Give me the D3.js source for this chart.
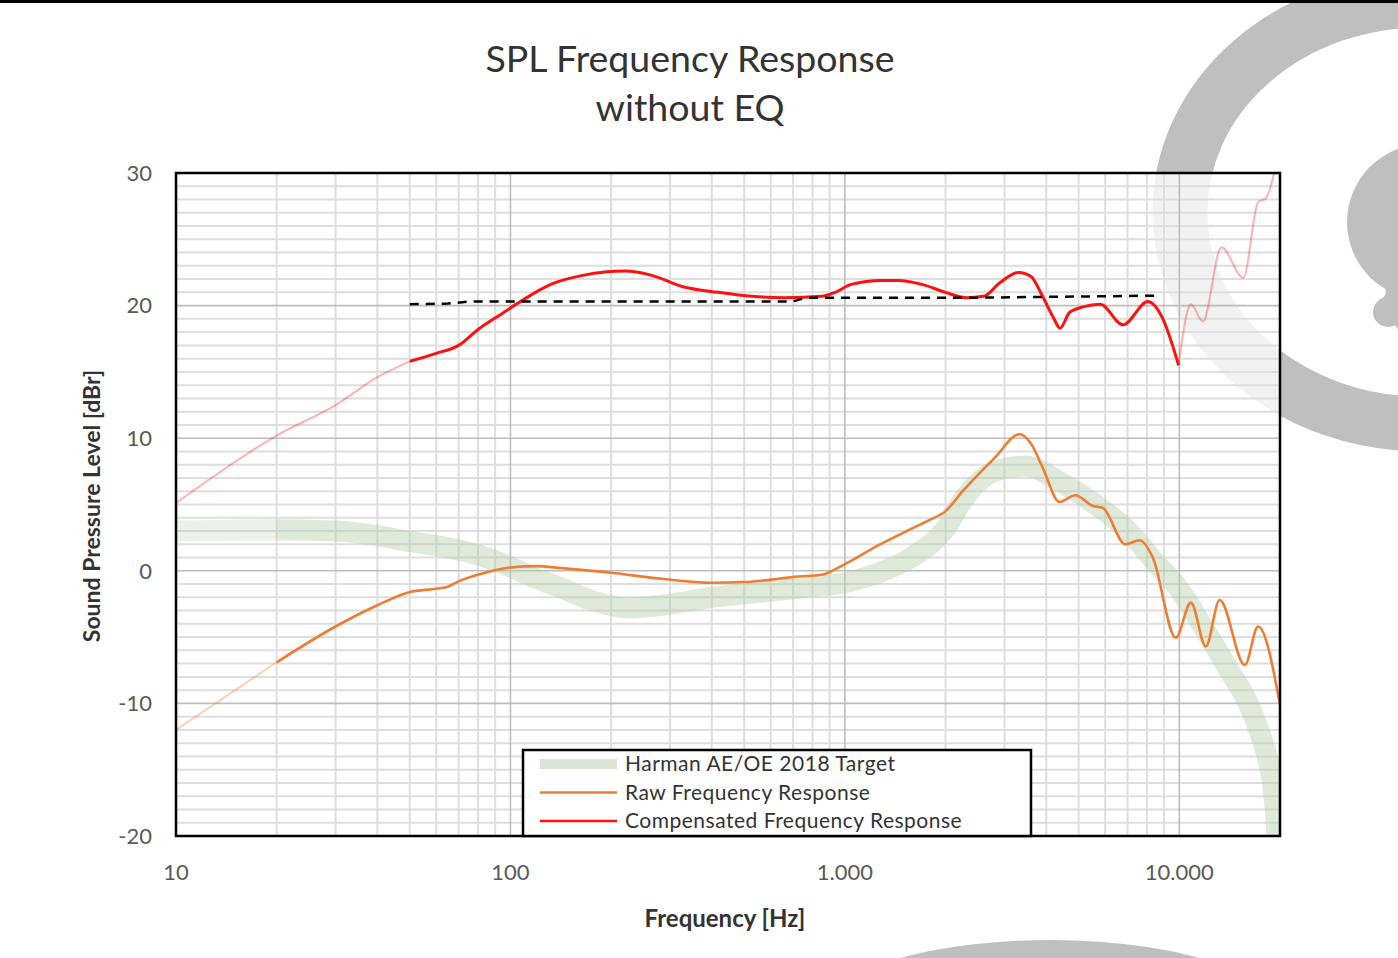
<!DOCTYPE html>
<html>
<head>
<meta charset="utf-8">
<script src="https://cdn.jsdelivr.net/npm/d3@7"></script>
<style>
  body { margin: 0; background: #fff; }
  text { font-family: Lato, "Open Sans", sans-serif; }
</style>
</head>
<body>
<div id="chart"></div>
<script>

// Harman target (green band)
const targetFreq = [10, 20, 30, 40, 50, 60, 80, 100, 115, 142, 178, 225, 283, 400, 564, 796, 1000, 1265, 1590, 2000, 2250, 2800, 3470, 4470, 5620, 7100, 8500, 10000, 11760, 14170, 16000, 17500, 18500, 19200, 19600, 20000];
const targetDb   = [3.0, 3.1, 3.0, 2.65, 2.2, 1.9, 1.2, 0.3, -0.4, -1.3, -2.3, -2.8, -2.6, -2.0, -1.6, -1.2, -0.9, -0.15, 1.05, 3.2, 5.3, 7.5, 7.9, 6.6, 5.0, 2.9, 0.6, -1.4, -4.2, -7.6, -9.9, -12.4, -14.5, -17, -20, -24];

// raw measurement (orange)
const rawFreq = [10, 20, 30, 40, 50, 60, 65, 70, 80, 100, 120, 142, 200, 283, 400, 500, 634, 708, 853, 1000, 1265, 1590, 1780, 2000, 2250, 2800, 3330, 3600, 3900, 4380, 4890, 5500, 5900, 6900, 7600, 8330, 9760, 10830, 12000, 13200, 15700, 17200, 20000];
const rawDb   = [-12.0, -6.9, -4.2, -2.6, -1.6, -1.35, -1.2, -0.8, -0.3, 0.25, 0.35, 0.2, -0.15, -0.6, -0.9, -0.85, -0.6, -0.45, -0.3, 0.5, 1.95, 3.2, 3.8, 4.5, 6.0, 8.5, 10.3, 9.6, 7.8, 5.2, 5.7, 4.9, 4.75, 2.0, 2.3, 1.0, -5.05, -2.4, -5.7, -2.2, -7.1, -4.2, -10.1];

// compensated response (red)
const compFreq = [10, 20, 30, 40, 50, 60, 70, 80, 93, 107, 132, 166, 220, 263, 330, 418, 527, 660, 852, 935, 1045, 1283, 1450, 1700, 2000, 2300, 2600, 2900, 3300, 3600, 3900, 4200, 4400, 4700, 5150, 5800, 6790, 8050, 8870, 9950, 10830, 11760, 13360, 15540, 17200, 18160, 19200];
const compDb   = [5.1, 10.2, 12.5, 14.6, 15.8, 16.4, 17.0, 18.2, 19.3, 20.3, 21.6, 22.3, 22.6, 22.3, 21.4, 21.0, 20.7, 20.6, 20.7, 21.0, 21.6, 21.9, 21.9, 21.6, 21.0, 20.6, 20.7, 21.7, 22.5, 22.2, 20.7, 19.1, 18.3, 19.5, 19.9, 20.1, 18.55, 20.3, 19.15, 15.5, 20.1, 18.8, 24.4, 22.1, 27.8, 28.1, 30];

// dashed trend line
const trendFreq = [50, 65, 75, 700, 760, 2500, 8500];
const trendDb   = [20.1, 20.15, 20.3, 20.3, 20.6, 20.6, 20.75];

const yTicks = [30, 20, 10, 0, -10, -20];
const xTicks = [10, 100, 1000, 10000];
const xTickLabels = ["10", "100", "1.000", "10.000"];
const legendLabels = ["Harman AE/OE 2018 Target", "Raw Frequency Response", "Compensated Frequency Response"];

const width = 1398;
const height = 958;
const plot = {left: 176, right: 1280, top: 173, bottom: 836};

const x = d3.scaleLog().domain([10, 20000]).range([plot.left, plot.right]);
const y = d3.scaleLinear().domain([-20, 30]).range([plot.bottom, plot.top]);

const svg = d3.select("#chart").append("svg")
	.attr("width", width)
	.attr("height", height);

// watermark logo behind everything
const wm = svg.append("g").attr("fill", "#bfbfbf");
wm.append("ellipse")
	.attr("cx", 1422).attr("cy", 212).attr("rx", 242).attr("ry", 212)
	.attr("fill", "none").attr("stroke", "#bfbfbf").attr("stroke-width", 55);
wm.append("ellipse").attr("cx", 1425).attr("cy", 222).attr("rx", 78).attr("ry", 78);
wm.append("path").attr("d", "M1372,265 Q1395,292 1380,300 L1398,330 L1398,265 Z");
wm.append("circle").attr("cx", 1388).attr("cy", 312).attr("r", 15);
wm.append("ellipse").attr("cx", 1050).attr("cy", 1030).attr("rx", 250).attr("ry", 90);

// top black strip
svg.append("rect").attr("x", 0).attr("y", 0).attr("width", width).attr("height", 3).attr("fill", "#000");

// plot background lets watermark show through a little
svg.append("rect")
	.attr("x", plot.left).attr("y", plot.top)
	.attr("width", plot.right - plot.left).attr("height", plot.bottom - plot.top)
	.attr("fill", "#fff").attr("opacity", 0.8);

svg.append("clipPath").attr("id", "plotClip")
	.append("rect")
	.attr("x", plot.left).attr("y", plot.top)
	.attr("width", plot.right - plot.left).attr("height", plot.bottom - plot.top);

// grid
const grid = svg.append("g");
const minorY = d3.range(-19, 30).filter(v => v % 10 !== 0);
const majorY = [-10, 0, 10, 20];
const minorX = [];
[10, 100, 1000, 10000].forEach(dec => {
	for (let k = 2; k <= 9; k++) if (dec * k < 20000) minorX.push(dec * k);
});
const majorX = [100, 1000, 10000];

grid.selectAll("line.minor-y").data(minorY).enter().append("line")
	.attr("x1", plot.left).attr("x2", plot.right)
	.attr("y1", d => y(d)).attr("y2", d => y(d))
	.attr("stroke", "#dedede").attr("stroke-width", 2);
grid.selectAll("line.minor-x").data(minorX).enter().append("line")
	.attr("x1", d => x(d)).attr("x2", d => x(d))
	.attr("y1", plot.top).attr("y2", plot.bottom)
	.attr("stroke", "#dedede").attr("stroke-width", 2);
grid.selectAll("line.major-y").data(majorY).enter().append("line")
	.attr("x1", plot.left).attr("x2", plot.right)
	.attr("y1", d => y(d)).attr("y2", d => y(d))
	.attr("stroke", "#bdbdbd").attr("stroke-width", 1.6);
grid.selectAll("line.major-x").data(majorX).enter().append("line")
	.attr("x1", d => x(d)).attr("x2", d => x(d))
	.attr("y1", plot.top).attr("y2", plot.bottom)
	.attr("stroke", "#bdbdbd").attr("stroke-width", 1.6);

// helpers
const zip = (fs, ds) => fs.map((f, i) => [f, ds[i]]);
const part = (pts, lo, hi) => pts.filter(p => p[0] >= lo && p[0] <= hi);
const makeLine = d3.line()
	.x(d => x(d[0]))
	.y(d => y(d[1]))
	.curve(d3.curveMonotoneX);

const target = zip(targetFreq, targetDb);
const raw = zip(rawFreq, rawDb);
const comp = zip(compFreq, compDb);
const trend = zip(trendFreq, trendDb);

const curves = svg.append("g").attr("clip-path", "url(#plotClip)");

// green target band
curves.append("path").attr("d", makeLine(part(target, 10, 20)))
	.attr("fill", "none").attr("stroke", "#b3cca6").attr("stroke-opacity", 0.25).attr("stroke-width", 21);
curves.append("path").attr("d", makeLine(part(target, 20, 20000)))
	.attr("fill", "none").attr("stroke", "#b3cca6").attr("stroke-opacity", 0.42).attr("stroke-width", 21);

// raw orange
curves.append("path").attr("d", makeLine(part(raw, 10, 20)))
	.attr("fill", "none").attr("stroke", "#ed7d31").attr("stroke-opacity", 0.35).attr("stroke-width", 2);
curves.append("path").attr("d", makeLine(part(raw, 20, 20000)))
	.attr("fill", "none").attr("stroke", "#ed7d31").attr("stroke-width", 2.6);

// compensated red
curves.append("path").attr("d", makeLine(part(comp, 10, 50)))
	.attr("fill", "none").attr("stroke", "#ff0000").attr("stroke-opacity", 0.3).attr("stroke-width", 2);
curves.append("path").attr("d", makeLine(part(comp, 9950, 20000)))
	.attr("fill", "none").attr("stroke", "#ff0000").attr("stroke-opacity", 0.3).attr("stroke-width", 2);
curves.append("path").attr("d", makeLine(part(comp, 50, 9950)))
	.attr("fill", "none").attr("stroke", "#ff1010").attr("stroke-width", 3);

// dashed trend
curves.append("path").attr("d", d3.line().x(d => x(d[0])).y(d => y(d[1]))(trend))
	.attr("fill", "none").attr("stroke", "#000").attr("stroke-width", 2.5)
	.attr("stroke-dasharray", "9,7");

// frame
svg.append("rect")
	.attr("x", plot.left).attr("y", plot.top)
	.attr("width", plot.right - plot.left).attr("height", plot.bottom - plot.top)
	.attr("fill", "none").attr("stroke", "#000").attr("stroke-width", 2.5);

// tick labels
svg.append("g").selectAll("text").data(yTicks).enter().append("text")
	.attr("x", 152).attr("y", d => y(d)).attr("dy", "0.35em")
	.attr("text-anchor", "end").attr("font-size", 22).attr("fill", "#595959")
	.text(d => d);
svg.append("g").selectAll("text").data(xTicks).enter().append("text")
	.attr("x", d => x(d)).attr("y", 880)
	.attr("text-anchor", "middle").attr("font-size", 22).attr("fill", "#595959")
	.text((d, i) => xTickLabels[i]);

// axis titles
svg.append("text")
	.attr("x", 725).attr("y", 927)
	.attr("text-anchor", "middle").attr("font-size", 24).attr("font-weight", "bold").attr("fill", "#333")
	.text("Frequency [Hz]");
svg.append("text")
	.attr("transform", "translate(100,506) rotate(-90)")
	.attr("text-anchor", "middle").attr("font-size", 23).attr("font-weight", "bold").attr("fill", "#333")
	.text("Sound Pressure Level [dBr]");

// title
svg.append("text")
	.attr("x", 690).attr("y", 72)
	.attr("text-anchor", "middle").attr("font-size", 37.5).attr("fill", "#333")
	.text("SPL Frequency Response");
svg.append("text")
	.attr("x", 690).attr("y", 121)
	.attr("text-anchor", "middle").attr("font-size", 37.5).attr("fill", "#333")
	.text("without EQ");

// legend
const legend = svg.append("g");
legend.append("rect")
	.attr("x", 523).attr("y", 750).attr("width", 508).attr("height", 86)
	.attr("fill", "#fff").attr("stroke", "#000").attr("stroke-width", 2.5);
const legendStyles = [
	{color: "#b3cca6", opacity: 0.5, w: 10},
	{color: "#ed7d31", opacity: 1, w: 2.5},
	{color: "#ff1010", opacity: 1, w: 2.5}
];
legendLabels.forEach((lab, i) => {
	const ly = 764 + i * 28.5;
	legend.append("line")
		.attr("x1", 540).attr("x2", 617).attr("y1", ly).attr("y2", ly)
		.attr("stroke", legendStyles[i].color)
		.attr("stroke-opacity", legendStyles[i].opacity)
		.attr("stroke-width", legendStyles[i].w);
	legend.append("text")
		.attr("x", 625).attr("y", ly).attr("dy", "0.35em")
		.attr("font-size", 21).attr("letter-spacing", 0.5).attr("fill", "#333")
		.text(lab);
});

</script>
</body>
</html>
